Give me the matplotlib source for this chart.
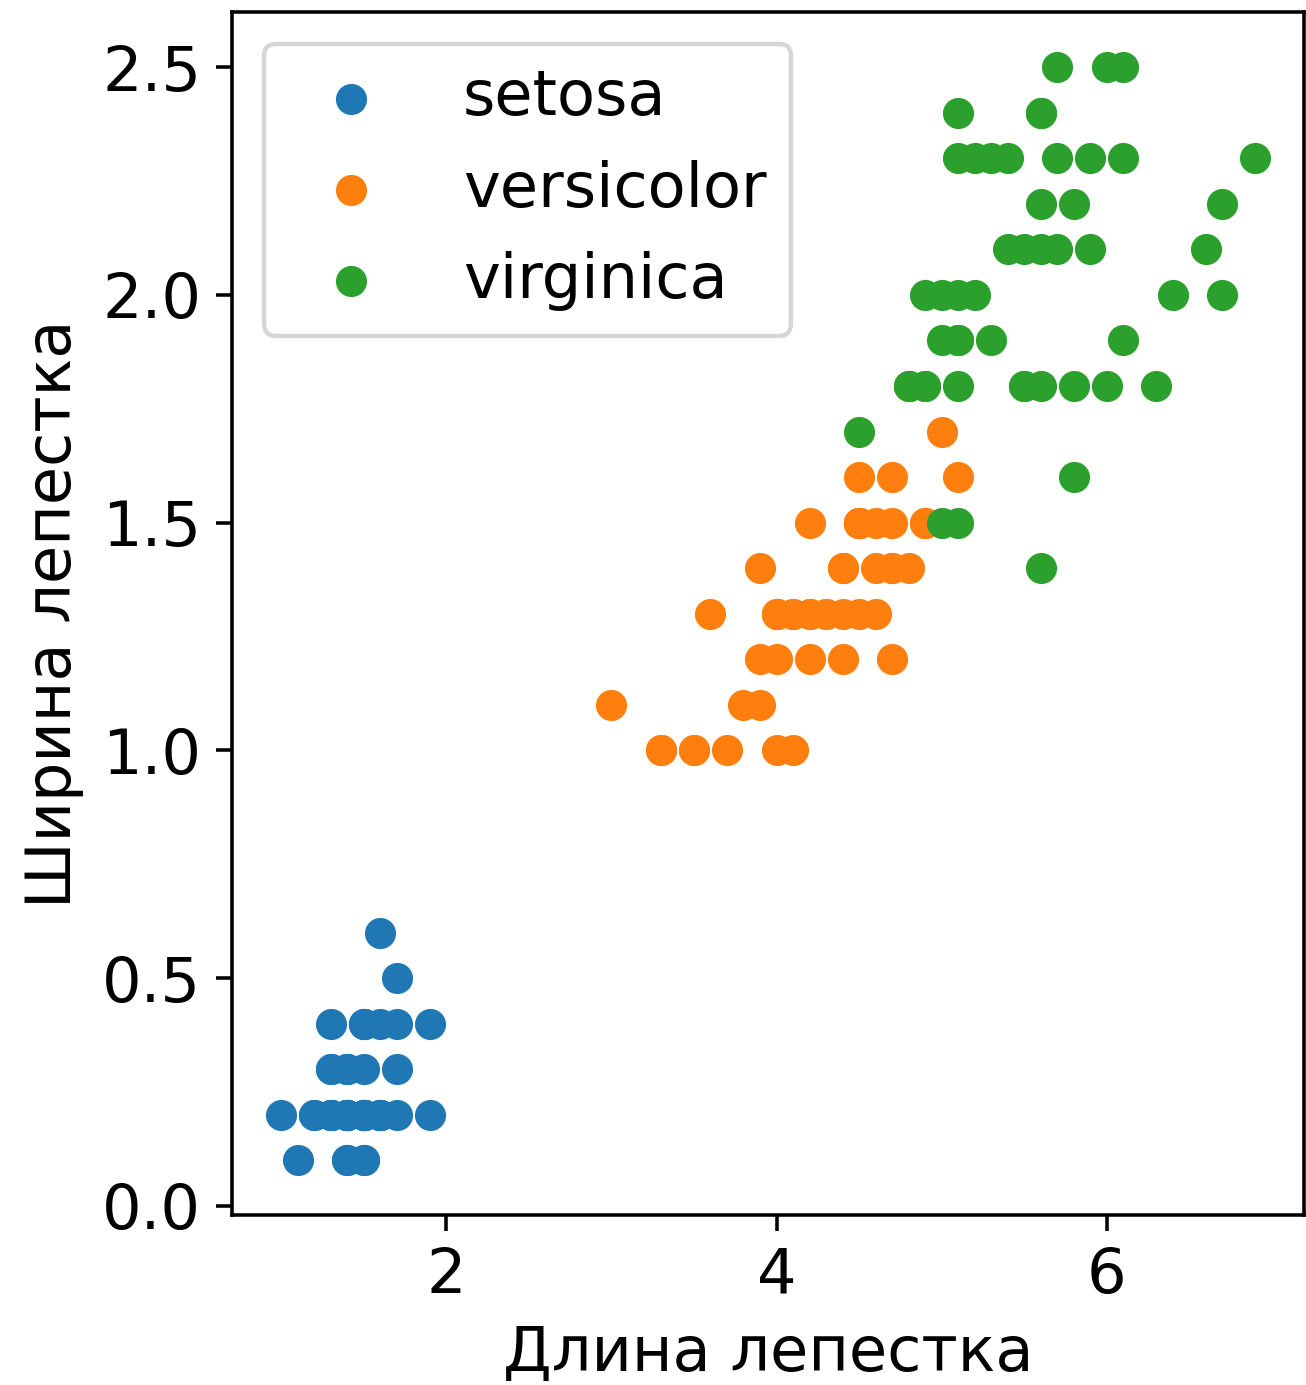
import matplotlib
matplotlib.use('Agg')
import matplotlib.pyplot as plt
import numpy as np

species = ['setosa', 'versicolor', 'virginica']

setosa_len = [1.4, 1.4, 1.3, 1.5, 1.4, 1.7, 1.4, 1.5, 1.4, 1.5, 1.5, 1.6, 1.4, 1.1, 1.2, 1.5, 1.3, 1.4, 1.7, 1.5,
              1.7, 1.5, 1.0, 1.7, 1.9, 1.6, 1.6, 1.5, 1.4, 1.6, 1.6, 1.5, 1.5, 1.4, 1.5, 1.2, 1.3, 1.4, 1.3, 1.5,
              1.3, 1.3, 1.3, 1.6, 1.9, 1.4, 1.6, 1.4, 1.5, 1.4]
setosa_wid = [0.2, 0.2, 0.2, 0.2, 0.2, 0.4, 0.3, 0.2, 0.2, 0.1, 0.2, 0.2, 0.1, 0.1, 0.2, 0.4, 0.4, 0.3, 0.3, 0.3,
              0.2, 0.4, 0.2, 0.5, 0.2, 0.2, 0.4, 0.2, 0.2, 0.2, 0.2, 0.4, 0.1, 0.2, 0.2, 0.2, 0.2, 0.1, 0.2, 0.2,
              0.3, 0.3, 0.2, 0.6, 0.4, 0.3, 0.2, 0.2, 0.2, 0.2]

versicolor_len = [4.7, 4.5, 4.9, 4.0, 4.6, 4.5, 4.7, 3.3, 4.6, 3.9, 3.5, 4.2, 4.0, 4.7, 3.6, 4.4, 4.5, 4.1, 4.5, 3.9,
                  4.8, 4.0, 4.9, 4.7, 4.3, 4.4, 4.8, 5.0, 4.5, 3.5, 3.8, 3.7, 3.9, 5.1, 4.5, 4.5, 4.7, 4.4, 4.1, 4.0,
                  4.4, 4.6, 4.0, 3.3, 4.2, 4.2, 4.2, 4.3, 3.0, 4.1]
versicolor_wid = [1.4, 1.5, 1.5, 1.3, 1.5, 1.3, 1.6, 1.0, 1.3, 1.4, 1.0, 1.5, 1.0, 1.4, 1.3, 1.4, 1.5, 1.0, 1.5, 1.1,
                  1.8, 1.3, 1.5, 1.2, 1.3, 1.4, 1.4, 1.7, 1.5, 1.0, 1.1, 1.0, 1.2, 1.6, 1.5, 1.6, 1.5, 1.3, 1.3, 1.3,
                  1.2, 1.4, 1.2, 1.0, 1.3, 1.2, 1.3, 1.3, 1.1, 1.3]

virginica_len = [6.0, 5.1, 5.9, 5.6, 5.8, 6.6, 4.5, 6.3, 5.8, 6.1, 5.1, 5.3, 5.5, 5.0, 5.1, 5.3, 5.5, 6.7, 6.9, 5.0,
                 5.7, 4.9, 6.7, 4.9, 5.7, 6.0, 4.8, 4.9, 5.6, 5.8, 6.1, 6.4, 5.6, 5.1, 5.6, 6.1, 5.6, 5.5, 4.8, 5.4,
                 5.6, 5.1, 5.1, 5.9, 5.7, 5.2, 5.0, 5.2, 5.4, 5.1]
virginica_wid = [2.5, 1.9, 2.1, 1.8, 2.2, 2.1, 1.7, 1.8, 1.8, 2.5, 2.0, 1.9, 2.1, 2.0, 2.4, 2.3, 1.8, 2.2, 2.3, 1.5,
                 2.3, 2.0, 2.0, 1.8, 2.1, 1.8, 1.8, 1.8, 2.1, 1.6, 1.9, 2.0, 2.2, 1.5, 1.4, 2.3, 2.4, 1.8, 1.8, 2.1,
                 2.4, 2.3, 1.9, 2.3, 2.5, 2.3, 1.9, 2.0, 2.3, 1.8]

lengths = [setosa_len, versicolor_len, virginica_len]
widths = [setosa_wid, versicolor_wid, virginica_wid]

plt.rcParams['font.size'] = 14

fig, ax = plt.subplots(figsize=(1306 / 320, 1385 / 320), dpi=320)
fig.subplots_adjust(left=0.178, right=0.9985, top=0.991, bottom=0.1227)

for name, x, y in zip(species, lengths, widths):
    ax.scatter(x, y, label=name)

ax.set_xlabel('Длина лепестка')
ax.set_ylabel('Ширина лепестка')
ax.legend(loc='upper left')

fig.savefig('out.png', dpi=320)
